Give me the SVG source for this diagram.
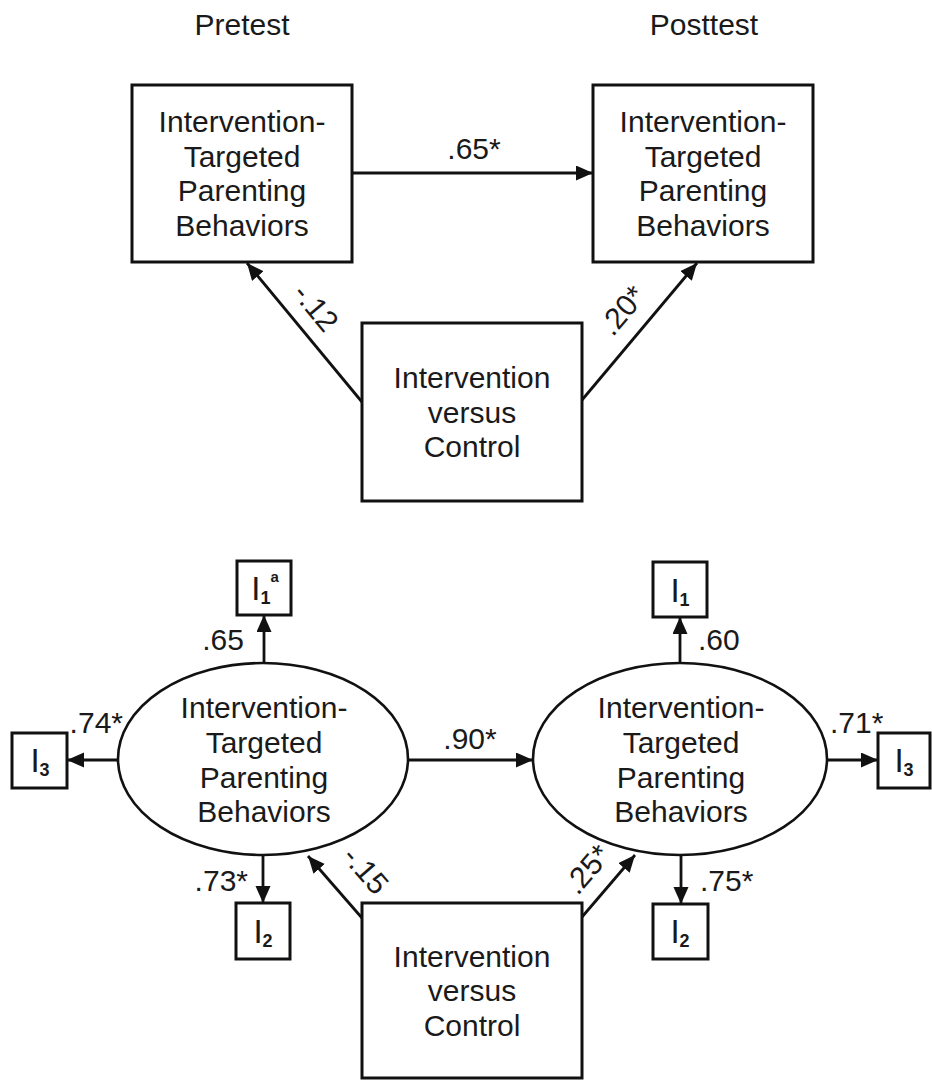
<svg xmlns="http://www.w3.org/2000/svg" width="932" height="1088" viewBox="0 0 932 1088">
<style>
text{font-family:"Liberation Sans",Arial,sans-serif;font-size:30px;fill:#1a1a1a}
.c{text-anchor:middle}
.e{text-anchor:end}
.box{fill:#fff;stroke:#111;stroke-width:3}
.ell{fill:#fff;stroke:#111;stroke-width:2.6}
.con line{stroke:#111;stroke-width:2.8}
.I{font-size:33px}
.sub{font-size:18px;font-weight:bold}
.sup{font-size:15px;font-weight:bold}
</style>
<defs>
<marker id="ah" markerUnits="userSpaceOnUse" markerWidth="18" markerHeight="16" refX="17" refY="7.5" orient="auto" viewBox="0 0 18 16">
<path d="M0,0 L17,7.5 L0,15 z" fill="#111"/>
</marker>
</defs>

<text class="c" x="242" y="35">Pretest</text>
<text class="c" x="704" y="35">Posttest</text>

<g id="connectors" class="con">
<line x1="352" y1="173" x2="593" y2="173" marker-end="url(#ah)"/>
<line x1="362" y1="402" x2="247" y2="263" marker-end="url(#ah)"/>
<line x1="582" y1="400" x2="697" y2="263" marker-end="url(#ah)"/>
<line x1="408" y1="760" x2="533" y2="760" marker-end="url(#ah)"/>
<line x1="264" y1="664" x2="264" y2="615" marker-end="url(#ah)"/>
<line x1="680" y1="664" x2="680" y2="617" marker-end="url(#ah)"/>
<line x1="118" y1="760" x2="67" y2="760" marker-end="url(#ah)"/>
<line x1="827" y1="760" x2="878" y2="760" marker-end="url(#ah)"/>
<line x1="263" y1="854" x2="263" y2="903" marker-end="url(#ah)"/>
<line x1="681" y1="854" x2="681" y2="904" marker-end="url(#ah)"/>
<line x1="362" y1="918" x2="308" y2="856" marker-end="url(#ah)"/>
<line x1="582" y1="917" x2="635" y2="855" marker-end="url(#ah)"/>
</g>

<g id="labels">
<text class="c" x="474" y="159">.65*</text>
<text class="c" transform="translate(308,314) rotate(50.4)">-.12</text>
<text class="c" transform="translate(630,317) rotate(-50)">.20*</text>
<text class="c" x="470" y="749">.90*</text>
<text class="e" x="244" y="650">.65</text>
<text x="698" y="650">.60</text>
<text class="e" x="123" y="733">.74*</text>
<text x="830" y="733">.71*</text>
<text class="e" x="248" y="891">.73*</text>
<text x="700" y="891">.75*</text>
<text class="c" transform="translate(358,877) rotate(48.9)">-.15</text>
<text class="c" transform="translate(595,876) rotate(-49.5)">.25*</text>
</g>

<g id="pre-box">
<rect class="box" x="132" y="85" width="220" height="177"/>
<text class="c" x="242" y="132">Intervention-</text>
<text class="c" x="242" y="167">Targeted</text>
<text class="c" x="242" y="201">Parenting</text>
<text class="c" x="242" y="236">Behaviors</text>
</g>

<g id="post-box">
<rect class="box" x="593" y="85" width="220" height="177"/>
<text class="c" x="703" y="132">Intervention-</text>
<text class="c" x="703" y="167">Targeted</text>
<text class="c" x="703" y="201">Parenting</text>
<text class="c" x="703" y="236">Behaviors</text>
</g>

<g id="ivc-top">
<rect class="box" x="362" y="323" width="220" height="178"/>
<text class="c" x="472" y="388">Intervention</text>
<text class="c" x="472" y="423">versus</text>
<text class="c" x="472" y="457">Control</text>
</g>

<g id="pre-latent">
<ellipse class="ell" cx="263" cy="759" rx="145" ry="96"/>
<text class="c" x="264" y="718">Intervention-</text>
<text class="c" x="264" y="753">Targeted</text>
<text class="c" x="264" y="788">Parenting</text>
<text class="c" x="264" y="822">Behaviors</text>
</g>

<g id="post-latent">
<ellipse class="ell" cx="680" cy="759" rx="147" ry="96"/>
<text class="c" x="681" y="718">Intervention-</text>
<text class="c" x="681" y="753">Targeted</text>
<text class="c" x="681" y="788">Parenting</text>
<text class="c" x="681" y="822">Behaviors</text>
</g>

<g id="ivc-bottom">
<rect class="box" x="362" y="903" width="220" height="175"/>
<text class="c" x="472" y="967">Intervention</text>
<text class="c" x="472" y="1001">versus</text>
<text class="c" x="472" y="1036">Control</text>
</g>

<g id="pre-I1">
<rect class="box" x="237" y="561" width="54" height="54"/>
<text class="c I" x="265" y="600">I<tspan class="sub" dy="4">1</tspan><tspan class="sup" dy="-22">a</tspan></text>
</g>
<g id="pre-I3">
<rect class="box" x="12" y="733" width="55" height="55"/>
<text class="c I" x="40" y="772">I<tspan class="sub" dy="4">3</tspan></text>
</g>
<g id="pre-I2">
<rect class="box" x="236" y="903" width="54" height="56"/>
<text class="c I" x="263" y="943">I<tspan class="sub" dy="4">2</tspan></text>
</g>
<g id="post-I1">
<rect class="box" x="653" y="562" width="54" height="55"/>
<text class="c I" x="680" y="602">I<tspan class="sub" dy="4">1</tspan></text>
</g>
<g id="post-I3">
<rect class="box" x="878" y="733" width="52" height="55"/>
<text class="c I" x="904" y="772">I<tspan class="sub" dy="4">3</tspan></text>
</g>
<g id="post-I2">
<rect class="box" x="653" y="904" width="55" height="55"/>
<text class="c I" x="680" y="943">I<tspan class="sub" dy="4">2</tspan></text>
</g>
</svg>
